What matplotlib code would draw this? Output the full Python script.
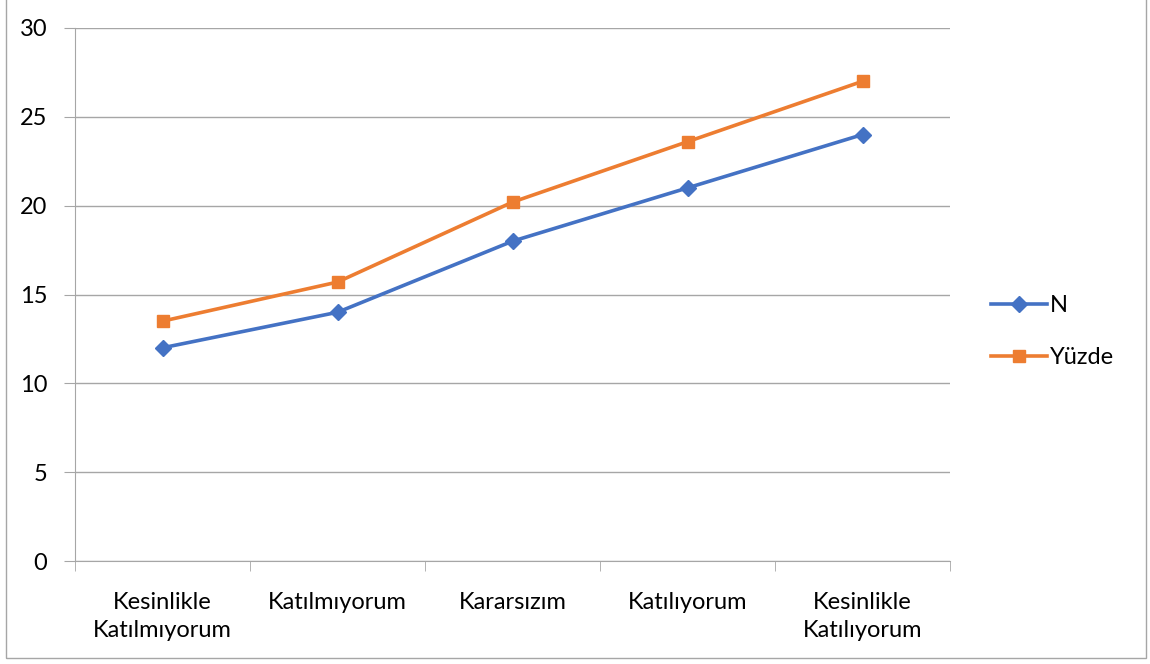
import matplotlib.pyplot as plt
from matplotlib.patches import Rectangle

categories = ["Kesinlikle\nKatılmıyorum", "Katılmıyorum", "Kararsızım",
              "Katılıyorum", "Kesinlikle\nKatılıyorum"]
n_values = [12, 14, 18, 21, 24]
yuzde_values = [13.5, 15.7, 20.2, 23.6, 27]

plt.rcParams['font.family'] = ['Lato', 'DejaVu Sans']

fig = plt.figure(figsize=(11.5, 6.64), dpi=100)
ax = fig.add_axes([75/1150, (664-561)/664, 875/1150, 533/664])

x = list(range(len(categories)))
ax.plot(x, n_values, color='#4472C4', lw=2.6, marker='D', ms=8, label='N')
ax.plot(x, yuzde_values, color='#ED7D31', lw=2.6, marker='s', ms=9, label='Yüzde')

ax.set_xlim(-0.5, 4.5)
ax.set_ylim(0, 30)
ax.set_yticks(range(0, 31, 5))
ax.yaxis.grid(True, color='#a6a6a6', lw=1)
ax.set_axisbelow(True)

ax.set_xticks(x)
ax.set_xticklabels(categories, fontsize=17, linespacing=1.45)
ax.set_xticks([i - 0.5 for i in range(6)], minor=True)
ax.tick_params(axis='x', which='major', length=0, pad=22)
ax.tick_params(axis='x', which='minor', length=7, color='#a6a6a6')
ax.tick_params(axis='y', length=8, color='#a6a6a6', labelsize=17, pad=12)

for s in ['top', 'right']:
    ax.spines[s].set_visible(False)
for s in ['left', 'bottom']:
    ax.spines[s].set_color('#a6a6a6')

ax.legend(loc='center left', bbox_to_anchor=(1.022, 0.43), frameon=False,
          fontsize=17, handlelength=2.4, labelspacing=1.3, handletextpad=0.1)

fig.patches.append(Rectangle((6/1150, 6/664), 1140/1150, 660/664,
                             transform=fig.transFigure, fill=False,
                             edgecolor='#a6a6a6', lw=1))

fig.savefig("out.png", dpi=100)
